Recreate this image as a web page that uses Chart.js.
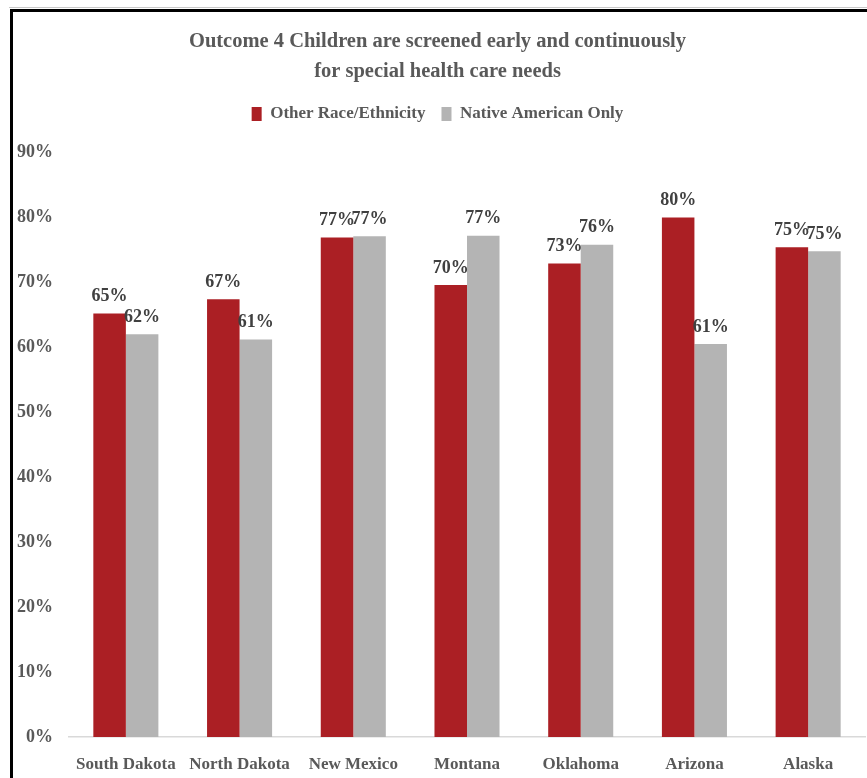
<!DOCTYPE html>
<html>
<head>
<meta charset="utf-8">
<script src="https://cdn.jsdelivr.net/npm/chart.js@4.4.0/dist/chart.umd.min.js"></script>
<style>
  html, body { margin: 0; padding: 0; background: #fff; overflow: hidden; }
  #wrap { width: 875px; height: 778px; }
</style>
</head>
<body>
<div id="wrap"><canvas id="chart" width="875" height="778"></canvas></div>
<script>
// categories and series
const states = ['South Dakota', 'North Dakota', 'New Mexico', 'Montana', 'Oklahoma', 'Arizona', 'Alaska'];
const otherRace = [65.2, 67.4, 76.9, 69.6, 72.9, 80.0, 75.4];
const nativeOnly = [62.0, 61.2, 77.1, 77.2, 75.8, 60.5, 74.8];
const seriesNames = ['Other Race/Ethnicity', 'Native American Only'];
const yTicks = [0, 10, 20, 30, 40, 50, 60, 70, 80, 90];

const RED = '#AB1F24';
const GREY = '#B4B4B4';
const TEXT = '#595959';
const FONT = "'Liberation Serif', 'DejaVu Serif', serif";

// labels above bars
const barLabels = {
    id: 'barLabels',
    afterDatasetsDraw(chart) {
        const ctx = chart.ctx;
        ctx.save();
        ctx.font = 'bold 18px ' + FONT;
        ctx.fillStyle = '#404040';
        ctx.textAlign = 'center';
        ctx.textBaseline = 'middle';
        chart.data.datasets.forEach((ds, i) => {
            chart.getDatasetMeta(i).data.forEach((bar, j) => {
                ctx.fillText(Math.round(ds.data[j]) + '%', bar.x, bar.y - 17);
            });
        });
        ctx.restore();
    }
};

// black frame on the left and top
const frame = {
    id: 'frame',
    afterDraw(chart) {
        const ctx = chart.ctx;
        ctx.save();
        ctx.strokeStyle = '#c8c8c8';
        ctx.lineWidth = 1;
        ctx.beginPath();
        ctx.moveTo(9, 7.5); ctx.lineTo(875, 7.5);
        ctx.stroke();
        ctx.strokeStyle = '#000';
        ctx.lineWidth = 3;
        ctx.beginPath();
        ctx.moveTo(11.5, 778); ctx.lineTo(11.5, 10.5); ctx.lineTo(875, 10.5);
        ctx.stroke();
        ctx.restore();
    }
};

// extra room under the legend
const legendGap = {
    id: 'legendGap',
    beforeInit(chart) {
        const fit = chart.legend.fit;
        chart.legend.fit = function () {
            fit.call(this);
            this.height += 20;
        };
    }
};

new Chart(document.getElementById('chart'), {
    type: 'bar',
    data: {
        labels: states,
        datasets: [
            { label: seriesNames[0], data: otherRace, backgroundColor: RED },
            { label: seriesNames[1], data: nativeOnly, backgroundColor: GREY }
        ]
    },
    options: {
        responsive: false,
        animation: false,
        devicePixelRatio: 1,
        categoryPercentage: 0.572,
        barPercentage: 1,
        layout: { padding: { left: 10, right: 10, top: 0, bottom: 0 } },
        plugins: {
            title: {
                display: true,
                text: ['Outcome 4 Children are screened early and continuously', 'for special health care needs'],
                color: TEXT,
                font: { family: FONT, size: 20.5, weight: 'bold', lineHeight: 1.5 },
                padding: { top: 26, bottom: 2 }
            },
            legend: {
                display: true,
                labels: {
                    color: TEXT,
                    font: { family: FONT, size: 17, weight: 'bold' },
                    boxWidth: 10,
                    boxHeight: 14,
                    padding: 16
                }
            },
            tooltip: { enabled: false }
        },
        scales: {
            x: {
                grid: { display: false, drawTicks: false },
                border: { display: true, color: '#d9d9d9', width: 1.5 },
                ticks: {
                    color: TEXT,
                    font: { family: FONT, size: 17, weight: 'bold' },
                    padding: 17,
                    maxRotation: 0,
                    autoSkip: false
                },
                afterFit(scale) { scale.height = 41; }
            },
            y: {
                min: 0,
                max: 90,
                grid: { display: false, drawTicks: false },
                border: { display: false },
                afterBuildTicks(scale) { scale.ticks = yTicks.map(v => ({ value: v })); },
                ticks: {
                    color: TEXT,
                    font: { family: FONT, size: 18, weight: 'bold' },
                    padding: 16,
                    callback: v => v + '%'
                },
                afterFit(scale) { scale.width = 59; }
            }
        }
    },
    plugins: [barLabels, frame, legendGap]
});
</script>
</body>
</html>
